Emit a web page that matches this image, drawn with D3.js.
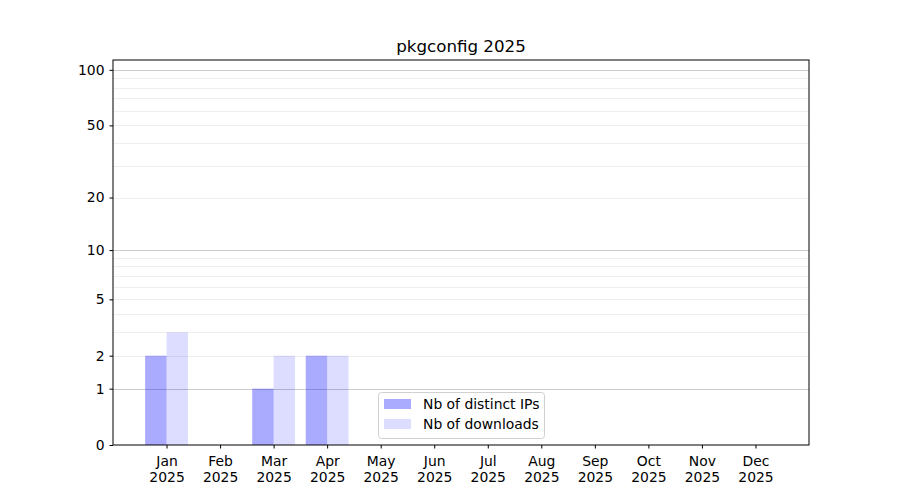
<!DOCTYPE html>
<html><head><meta charset="utf-8">
<script src="https://cdn.jsdelivr.net/npm/d3@7"></script>
<style>body{margin:0;background:#fff}svg{font-family:"DejaVu Sans",sans-serif}</style>
</head><body><svg id="c" width="900" height="500"></svg>
<script>
const months = ["Jan","Feb","Mar","Apr","May","Jun","Jul","Aug","Sep","Oct","Nov","Dec"];
const year = "2025";
const distinctIPs = [2,0,1,2,0,0,0,0,0,0,0,0];
const downloads = [3,0,2,2,0,0,0,0,0,0,0,0];
const yTicks = [0,1,2,5,10,20,50,100];
const majorGrid = [1,10,100];
const minorGrid = [2,3,4,5,6,7,8,9,20,30,40,50,60,70,80,90];
const seriesNames = ["Nb of distinct IPs","Nb of downloads"];
const opac = [0.333,0.135];

const svg = d3.select("#c");
const L=113,R=809,T=60,B=445;
const x = d3.scaleLinear().domain([-1,12]).range([L,R]);
const y = d3.scaleSymlog().constant(1).domain([0,113]).range([B,T]);
const bw = 0.4;

svg.append("text").attr("x",(L+R)/2).attr("y",52).attr("text-anchor","middle")
  .attr("font-size",16.7).text("pkgconfig " + year);

const g = svg.append("g");
g.selectAll(".mg").data(minorGrid).join("line")
  .attr("x1",L).attr("x2",R).attr("y1",d=>Math.round(y(d))+0.5).attr("y2",d=>Math.round(y(d))+0.5)
  .attr("stroke","#ebebeb").attr("stroke-width",0.8);
g.selectAll(".Mg").data(majorGrid).join("line")
  .attr("x1",L).attr("x2",R).attr("y1",d=>Math.round(y(d))+0.5).attr("y2",d=>Math.round(y(d))+0.5)
  .attr("stroke","#cccccc").attr("stroke-width",1);

g.selectAll(".b1").data(distinctIPs).join("rect")
  .attr("x",(d,i)=>x(i-bw)).attr("width",x(bw)-x(0))
  .attr("y",d=>y(d)).attr("height",d=>y(0)-y(d)).attr("fill","#0000ff").attr("fill-opacity",opac[0]);
g.selectAll(".b2").data(downloads).join("rect")
  .attr("x",(d,i)=>x(i)).attr("width",x(bw)-x(0))
  .attr("y",d=>y(d)).attr("height",d=>y(0)-y(d)).attr("fill","#0000ff").attr("fill-opacity",opac[1]);

// axes
const ya = svg.append("g").attr("transform",`translate(${L},0)`)
  .call(d3.axisLeft(y).tickValues(yTicks).tickFormat(d3.format("d")).tickSize(3.5).tickPadding(5));
ya.select(".domain").remove();
ya.selectAll("text").attr("font-size",13.9).attr("fill","#000").attr("font-family","DejaVu Sans");
ya.selectAll("line").attr("stroke","#000");

const xa = svg.append("g").attr("transform",`translate(0,${B})`)
  .call(d3.axisBottom(x).tickValues(d3.range(12)).tickFormat("").tickSize(3.5));
xa.select(".domain").remove();
xa.selectAll("line").attr("stroke","#000");
xa.selectAll(".tick").each(function(d){
  const t = d3.select(this).append("text").attr("fill","#000").attr("font-size",13.9)
    .attr("text-anchor","middle").attr("font-family","DejaVu Sans");
  t.append("tspan").attr("x",0).attr("y",21).text(months[d]);
  t.append("tspan").attr("x",0).attr("y",37).text(year);
});

svg.append("rect").attr("x",L).attr("y",T).attr("width",R-L).attr("height",B-T)
  .attr("fill","none").attr("stroke","#000").attr("stroke-width",1);

// legend
const lg = svg.append("g").attr("transform","translate(378,392)");
lg.append("rect").attr("x",0.5).attr("y",0.5).attr("width",166).attr("height",46).attr("rx",3)
  .attr("fill","#fff").attr("fill-opacity",0.8).attr("stroke","#d0d0d0");
seriesNames.forEach((n,i)=>{
  lg.append("rect").attr("x",6).attr("y",7+i*20).attr("width",27).attr("height",10)
    .attr("fill","#0000ff").attr("fill-opacity",opac[i]);
  lg.append("text").attr("x",45).attr("y",17+i*20).attr("font-size",13.9).text(n);
});
</script></body></html>
